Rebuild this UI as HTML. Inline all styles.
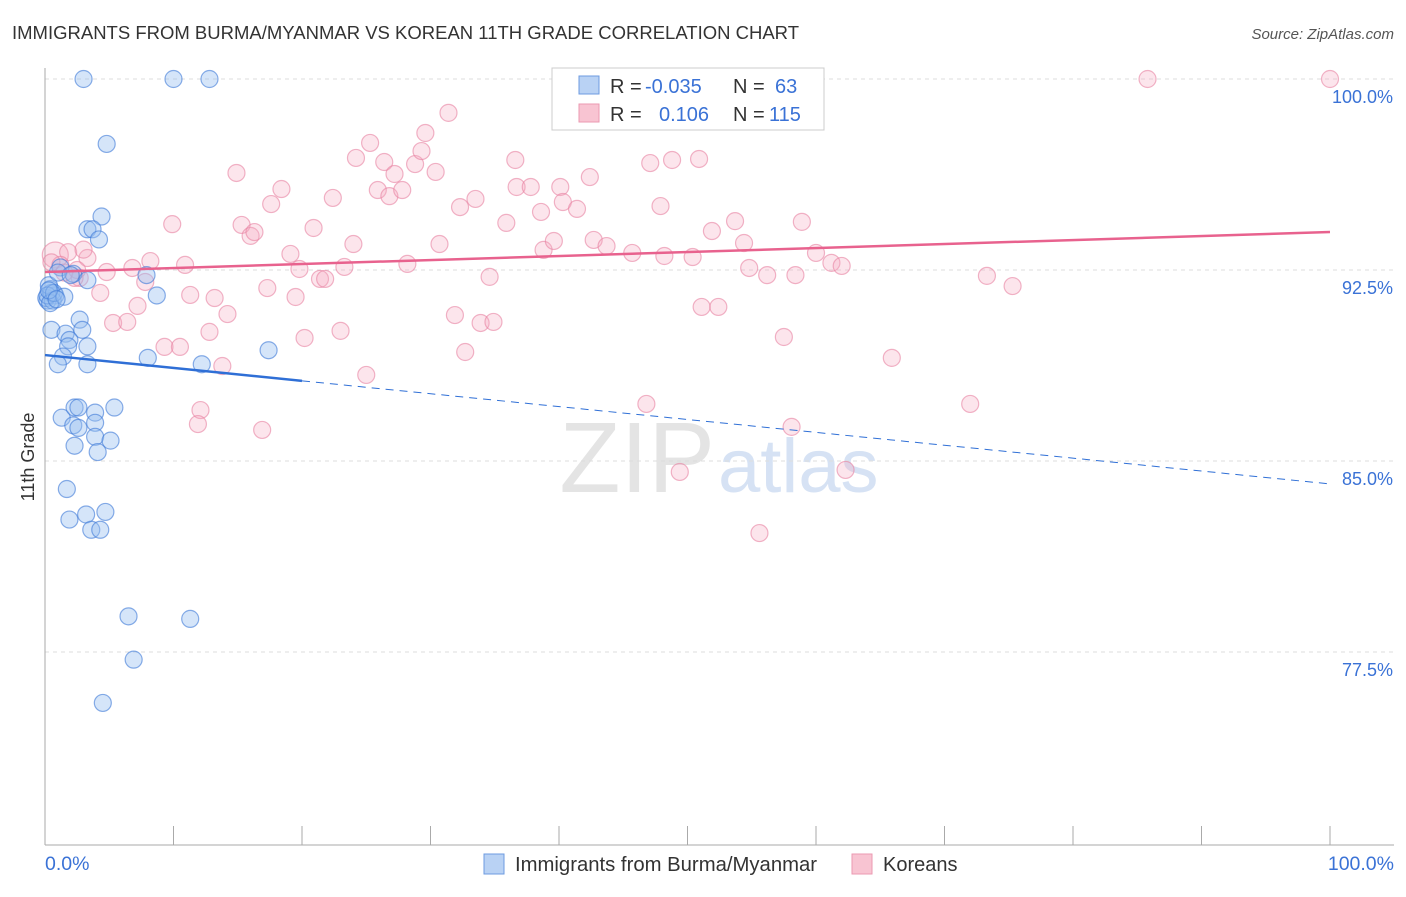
<!DOCTYPE html>
<html><head><meta charset="utf-8"><style>
body{margin:0;background:#fff;font-family:"Liberation Sans",sans-serif}
svg text{font-family:"Liberation Sans",sans-serif}
</style></head><body>
<svg id="chart" width="1406" height="892">
<text x="12" y="39" font-size="18.5" fill="#333">IMMIGRANTS FROM BURMA/MYANMAR VS KOREAN 11TH GRADE CORRELATION CHART</text>
<text x="1394" y="39" font-size="15" fill="#555" text-anchor="end" font-style="italic">Source: ZipAtlas.com</text>
<text x="715" y="492" font-size="100" fill="#e4e4e4" font-family="Liberation Serif" text-anchor="end">ZIP</text>
<text x="718" y="492" font-size="76" fill="#d6e2f4">atlas</text>
<g id="grid"></g><g id="axes"></g><g id="pts"></g><g id="trend"></g>
<g>
<rect x="552" y="68" width="272" height="62" fill="#fff" stroke="#ccc"/>
<rect x="579" y="76" width="20" height="18" fill="#b9d2f4" stroke="#6d9be0"/>
<rect x="579" y="104" width="20" height="18" fill="#f8c4d2" stroke="#eb9ab2"/>
<text x="610" y="93" font-size="20" fill="#333">R =</text><text x="645" y="93" font-size="20" fill="#3a72d6">-0.035</text>
<text x="733" y="93" font-size="20" fill="#333">N =</text><text x="775" y="93" font-size="20" fill="#3a72d6">63</text>
<text x="610" y="121" font-size="20" fill="#333">R =</text><text x="659" y="121" font-size="20" fill="#3a72d6">0.106</text>
<text x="733" y="121" font-size="20" fill="#333">N =</text><text x="769" y="121" font-size="20" fill="#3a72d6">115</text>
</g>
<text x="34" y="457" font-size="18" fill="#333" transform="rotate(-90 34 457)" text-anchor="middle">11th Grade</text>
<text x="45" y="870" font-size="19.5" fill="#3a72d6">0.0%</text>
<text x="1394" y="870" font-size="19.5" fill="#3a72d6" text-anchor="end">100.0%</text>
<g><rect x="484" y="854" width="20" height="20" fill="#b9d2f4" stroke="#6d9be0"/><text x="515" y="871" font-size="20.3" fill="#333">Immigrants from Burma/Myanmar</text></g>
<g><rect x="852" y="854" width="20" height="20" fill="#f8c4d2" stroke="#eb9ab2"/><text x="883" y="871" font-size="20" fill="#333">Koreans</text></g>
</svg>
<script>
const yTicks=[100,92.5,85,77.5];
const xTicks=[0,10,20,30,40,50,60,70,80,90,100];
const blueX=[3.0,10.0,12.8,4.8,4.4,3.3,3.7,4.2,1.2,2.2,3.3,7.9,0.4,0.8,0.2,8.7,0.5,2.7,2.9,1.6,1.9,1.8,3.3,1.4,1.0,3.3,8.0,12.2,17.4,1.3,2.3,2.6,3.9,5.4,2.2,2.6,3.9,3.9,5.1,2.3,4.1,1.7,1.9,3.2,4.7,3.6,4.3,6.5,11.3,6.9,4.5,0.1,0.5,0.3,0.6,0.2,1.0,0.4,0.7,1.5,2.0,0.3,0.9];
const blueY=[100,100,100,97.45,94.6,94.1,94.1,93.7,92.6,92.35,92.1,92.3,91.75,91.5,91.3,91.5,90.15,90.55,90.15,90.0,89.75,89.5,89.5,89.1,88.8,88.8,89.05,88.8,89.35,86.7,87.1,87.1,86.9,87.1,86.4,86.3,86.5,85.95,85.8,85.6,85.35,83.9,82.7,82.9,83.0,82.3,82.3,78.9,78.8,77.2,75.5,91.4,91.6,91.9,91.3,91.5,92.4,91.2,91.6,91.45,92.3,91.7,91.35];
const pinkX=[0.8,1.8,1.2,2.7,2.3,3.3,4.3,4.8,5.3,6.4,6.8,7.2,7.8,8.2,9.9,9.3,10.5,10.9,11.3,12.1,11.9,12.8,13.2,13.8,14.2,14.9,15.3,16.0,16.3,16.9,17.3,17.6,18.4,19.1,19.5,19.8,20.2,20.9,21.4,21.8,22.4,23.0,23.3,24.0,24.2,25.0,25.3,25.9,26.4,26.8,27.2,27.8,28.2,28.8,29.3,29.6,30.4,30.7,31.4,31.9,32.3,32.7,33.5,33.9,34.9,34.6,35.9,36.6,36.7,37.8,38.6,38.8,39.6,40.1,40.3,40.8,41.4,42.4,42.7,43.7,45.7,46.8,47.1,47.9,48.2,48.8,49.4,50.4,50.9,51.1,51.9,52.4,53.7,54.4,54.8,55.6,56.2,57.5,58.1,58.4,58.9,60.0,61.2,62.0,62.3,65.9,72.0,73.3,75.3,85.8,100,0.5,1.5,2.5,3.0];
const pinkY=[93.09,93.2,92.7,92.19,92.19,92.97,91.6,92.42,90.42,90.46,92.58,91.09,92.03,92.85,94.3,89.48,89.48,92.7,91.52,87.0,86.45,90.07,91.4,88.73,90.77,96.31,94.27,93.84,93.99,86.22,91.79,95.09,95.68,93.13,91.44,92.54,89.83,94.15,92.15,92.15,95.33,90.11,92.62,93.52,96.9,88.38,97.49,95.64,96.74,95.4,96.27,95.64,92.74,96.66,97.17,97.88,96.35,93.52,98.67,90.73,94.97,89.28,95.29,90.42,90.46,92.23,94.35,96.82,95.76,95.76,94.78,93.29,93.64,95.76,95.17,100,94.9,96.15,93.68,93.44,93.17,87.24,96.7,95.01,93.05,96.82,84.57,93.01,96.86,91.05,94.03,91.05,94.42,93.56,92.58,82.17,92.3,89.87,86.34,92.3,94.39,93.17,92.78,92.66,84.65,89.05,87.24,92.27,91.87,100,100,92.8,92.4,92.5,93.3];
const blueTrend=[89.16,84.1];const blueSolidEnd=20;
const pinkTrend=[92.42,93.99];
const NS='http://www.w3.org/2000/svg';
const L=45,R=1330,T=79,B=652;
const sx=v=>L+(R-L)*v/100;
const sy=v=>T+(100-v)*(B-T)/22.5;
function mk(tag,attrs,parent){const e=document.createElementNS(NS,tag);for(const k in attrs)e.setAttribute(k,attrs[k]);parent.appendChild(e);return e;}
const grid=document.getElementById('grid'),axes=document.getElementById('axes'),pts=document.getElementById('pts'),tr=document.getElementById('trend');
yTicks.forEach(t=>{
 const l=mk('line',{x1:L,x2:1394,y1:sy(t),y2:sy(t),stroke:'#ddd','stroke-dasharray':'4,4'},grid);
 
 
 const tx=mk('text',{x:1393,y:sy(t)+24,'font-size':18,fill:'#3a72d6','text-anchor':'end'},grid);
 tx.textContent=t.toFixed(1)+'%';
 
 
});
const ax=mk('line',{x1:L,x2:1394,y1:845,y2:845,stroke:'#aaa'},axes);


const ay=mk('line',{x1:L,x2:L,y1:68,y2:845,stroke:'#aaa'},axes);


xTicks.forEach(t=>{
 const l=mk('line',{x1:sx(t),x2:sx(t),y1:826,y2:845,stroke:'#aaa'},axes);
 
 
});
pinkX.forEach((x,i)=>{
 const big=i===0;
 const c=mk('circle',{cx:sx(x),cy:sy(pinkY[i]),r:big?13:8.5,fill:'rgba(244,170,192,0.3)',stroke:'rgba(232,130,162,0.6)','stroke-width':1.2},pts);
 
 
});
blueX.forEach((x,i)=>{
 const c=mk('circle',{cx:sx(x),cy:sy(blueY[i]),r:8.5,fill:'rgba(150,190,240,0.4)',stroke:'rgba(60,120,215,0.6)','stroke-width':1.2},pts);
 
 
});
const by=x=>blueTrend[0]+(blueTrend[1]-blueTrend[0])*x/100;
const b1=mk('line',{x1:sx(0),y1:sy(by(0)),x2:sx(blueSolidEnd),y2:sy(by(blueSolidEnd)),stroke:'#2f6fd6','stroke-width':2.5},tr);


const b2=mk('line',{x1:sx(blueSolidEnd),y1:sy(by(blueSolidEnd)),x2:sx(100),y2:sy(by(100)),stroke:'#2f6fd6','stroke-width':1,'stroke-dasharray':'8,6'},tr);


const p1=mk('line',{x1:sx(0),y1:sy(pinkTrend[0]),x2:sx(100),y2:sy(pinkTrend[1]),stroke:'#e8628e','stroke-width':2.5},tr);


</script>
</body></html>
